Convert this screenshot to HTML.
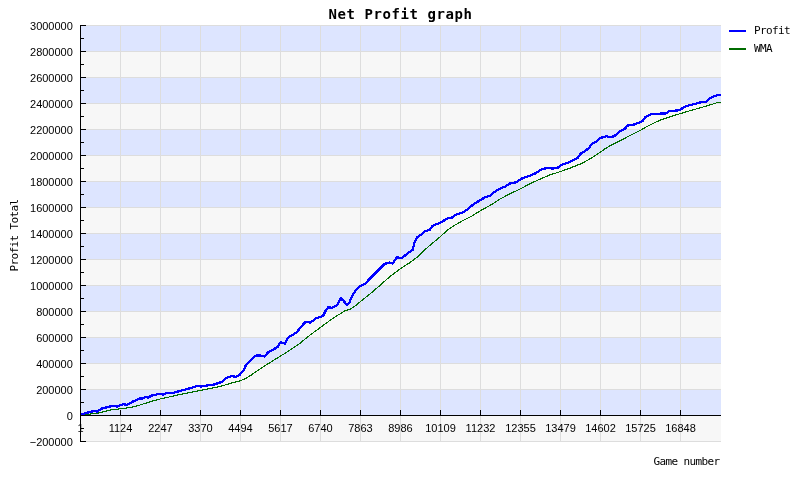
<!DOCTYPE html>
<html><head><meta charset="utf-8"><title>Net Profit graph</title>
<style>
html,body{margin:0;padding:0;background:#fff;}
body{width:800px;height:480px;overflow:hidden;}
svg{display:block;}
.ax{font-family:"Liberation Sans",Arial,sans-serif;font-size:11px;fill:#000;}
.mono{font-family:"DejaVu Sans Mono","Liberation Mono",monospace;fill:#000;}
</style></head><body>
<svg width="800" height="480" viewBox="0 0 800 480">
<rect x="0" y="0" width="800" height="480" fill="#ffffff"/>
<g shape-rendering="crispEdges">
<rect x="81" y="25" width="640" height="26" fill="#dde5ff"/>
<rect x="81" y="51" width="640" height="26" fill="#f7f7f7"/>
<rect x="81" y="77" width="640" height="26" fill="#dde5ff"/>
<rect x="81" y="103" width="640" height="26" fill="#f7f7f7"/>
<rect x="81" y="129" width="640" height="26" fill="#dde5ff"/>
<rect x="81" y="155" width="640" height="26" fill="#f7f7f7"/>
<rect x="81" y="181" width="640" height="26" fill="#dde5ff"/>
<rect x="81" y="207" width="640" height="26" fill="#f7f7f7"/>
<rect x="81" y="233" width="640" height="26" fill="#dde5ff"/>
<rect x="81" y="259" width="640" height="26" fill="#f7f7f7"/>
<rect x="81" y="285" width="640" height="26" fill="#dde5ff"/>
<rect x="81" y="311" width="640" height="26" fill="#f7f7f7"/>
<rect x="81" y="337" width="640" height="26" fill="#dde5ff"/>
<rect x="81" y="363" width="640" height="26" fill="#f7f7f7"/>
<rect x="81" y="389" width="640" height="26" fill="#dde5ff"/>
<rect x="81" y="415" width="640" height="27" fill="#f7f7f7"/>
<rect x="81" y="25" width="640" height="1" fill="#dddddd"/>
<rect x="81" y="51" width="640" height="1" fill="#dddddd"/>
<rect x="81" y="77" width="640" height="1" fill="#dddddd"/>
<rect x="81" y="103" width="640" height="1" fill="#dddddd"/>
<rect x="81" y="129" width="640" height="1" fill="#dddddd"/>
<rect x="81" y="155" width="640" height="1" fill="#dddddd"/>
<rect x="81" y="181" width="640" height="1" fill="#dddddd"/>
<rect x="81" y="207" width="640" height="1" fill="#dddddd"/>
<rect x="81" y="233" width="640" height="1" fill="#dddddd"/>
<rect x="81" y="259" width="640" height="1" fill="#dddddd"/>
<rect x="81" y="285" width="640" height="1" fill="#dddddd"/>
<rect x="81" y="311" width="640" height="1" fill="#dddddd"/>
<rect x="81" y="337" width="640" height="1" fill="#dddddd"/>
<rect x="81" y="363" width="640" height="1" fill="#dddddd"/>
<rect x="81" y="389" width="640" height="1" fill="#dddddd"/>
<rect x="81" y="415" width="640" height="1" fill="#dddddd"/>
<rect x="81" y="441" width="640" height="1" fill="#dddddd"/>
<rect x="120" y="25" width="1" height="417" fill="#dddddd"/>
<rect x="160" y="25" width="1" height="417" fill="#dddddd"/>
<rect x="200" y="25" width="1" height="417" fill="#dddddd"/>
<rect x="240" y="25" width="1" height="417" fill="#dddddd"/>
<rect x="280" y="25" width="1" height="417" fill="#dddddd"/>
<rect x="320" y="25" width="1" height="417" fill="#dddddd"/>
<rect x="360" y="25" width="1" height="417" fill="#dddddd"/>
<rect x="400" y="25" width="1" height="417" fill="#dddddd"/>
<rect x="440" y="25" width="1" height="417" fill="#dddddd"/>
<rect x="480" y="25" width="1" height="417" fill="#dddddd"/>
<rect x="520" y="25" width="1" height="417" fill="#dddddd"/>
<rect x="560" y="25" width="1" height="417" fill="#dddddd"/>
<rect x="600" y="25" width="1" height="417" fill="#dddddd"/>
<rect x="640" y="25" width="1" height="417" fill="#dddddd"/>
<rect x="680" y="25" width="1" height="417" fill="#dddddd"/>
</g>
<polyline shape-rendering="crispEdges" fill="none" stroke="#006c00" stroke-width="1.15" points="81,415 85,414.8 92,413.8 98,413.2 110,410 120,408.8 127,408 133,407 140,405 150,401.8 160,399 170,396.8 180,394.5 190,392.5 200,390.5 210,388.5 220,386.5 230,383.5 240,380.8 245,378.9 251.25,375.1 260,368.9 270,362.6 280,356.4 290,350.1 300,343.25 310,335.1 320,327.7 332.5,318.6 345,310.75 350,309.25 355,306.1 362.5,299.9 370,294 380,285.4 390,276.5 400,269 410,262.5 418.75,255.9 423.1,251.4 430,245.2 440,236.9 447.5,230.1 455,225.1 462.5,220.75 471.25,216.4 480,210.9 490,205.5 500,199.1 510,193.75 520,189.1 530,183.75 540,179.1 550,174.9 560,171.7 570,168.1 582.5,163.1 591.25,158.1 600,152.5 605,148.75 611.25,145 620,140.8 630,135.5 640,130.5 650,124.9 660,120.25 670,116.75 680,113.7 690,110.75 698.5,108.25 706,106.15 713.5,103.9 718,102.4 720.5,102.25"/>
<polyline shape-rendering="crispEdges" fill="none" stroke="#0000ff" stroke-width="2.3" stroke-linejoin="round" points="81,414.5 90,412 94,411 97,411.5 102,408.5 110,406.5 113,405.8 117,406.5 123,404.2 127,404.8 132,402 140,398.2 142,398.8 146,397 148,397.5 152,395.5 160,393.8 163,394.5 166,393.2 172,393.2 180,391 190,388.2 198,385.8 201,386.5 207,385.5 214,384.5 220,382.5 222,382.2 226,378.2 232,376 236,377 240,374.5 243.75,370 245.6,365.75 248.75,362 252.5,358.25 256.25,355.5 260,355.5 264.4,356.4 268.75,351.75 273,349.75 277.5,347 280.6,342.25 285,343.5 288,337.6 292.5,335 297,332.25 300,327.8 305.5,322 310.5,322.5 316.25,318.25 323,316.1 325.6,310.75 328,307.4 332.5,307.75 337.5,304.9 340.6,298 343.75,301.1 346.9,304.9 349.4,302.4 352.5,295.5 355.6,290.5 360,286.2 365,283.8 371.25,277.2 377.5,270.9 384.4,264 389.4,262.5 392.75,263.4 396.9,257.5 401.9,258 407.5,253.4 412.5,250 414.4,243 417.2,237.3 421.5,234.3 425,231 429.4,230.1 432.5,225.75 437.5,223.9 442.5,221.4 447.5,218.5 451.9,217.6 456.25,214.5 462.5,212.6 466.9,209.75 472.5,205.1 478.75,201 485,197.4 490,195.7 495,191.6 500,188.75 505,186.6 510,183.5 516.25,182.25 521.25,178.75 527.5,176.6 535,173.5 541.25,169.5 547.5,167.9 552.5,168.5 557.5,167.8 562.5,164.4 570,161.9 577.5,158.1 580.6,153.75 585,151.25 589.4,147.5 591.9,143.75 596.25,141.9 600,138.1 606.25,136.25 611.25,137.25 615,135.6 620,131 624.4,129.3 627.5,125.5 632.5,124.9 635,124.25 642.5,121.1 645,117.4 651.25,114.25 661.25,113.6 665.6,113.6 669.4,111.1 677.5,110.5 680,110 683.5,107.3 689.5,105.1 694.75,104.1 700,102.5 706.75,101.65 709,98.9 713.5,96.6 718,94.9 720.5,94.9"/>
<g shape-rendering="crispEdges" fill="#000">
<rect x="80" y="25" width="1" height="417"/>
<rect x="81" y="25" width="5" height="1"/>
<rect x="81" y="38" width="3" height="1"/>
<rect x="81" y="51" width="5" height="1"/>
<rect x="81" y="64" width="3" height="1"/>
<rect x="81" y="77" width="5" height="1"/>
<rect x="81" y="90" width="3" height="1"/>
<rect x="81" y="103" width="5" height="1"/>
<rect x="81" y="116" width="3" height="1"/>
<rect x="81" y="129" width="5" height="1"/>
<rect x="81" y="142" width="3" height="1"/>
<rect x="81" y="155" width="5" height="1"/>
<rect x="81" y="168" width="3" height="1"/>
<rect x="81" y="181" width="5" height="1"/>
<rect x="81" y="194" width="3" height="1"/>
<rect x="81" y="207" width="5" height="1"/>
<rect x="81" y="220" width="3" height="1"/>
<rect x="81" y="233" width="5" height="1"/>
<rect x="81" y="246" width="3" height="1"/>
<rect x="81" y="259" width="5" height="1"/>
<rect x="81" y="272" width="3" height="1"/>
<rect x="81" y="285" width="5" height="1"/>
<rect x="81" y="298" width="3" height="1"/>
<rect x="81" y="311" width="5" height="1"/>
<rect x="81" y="324" width="3" height="1"/>
<rect x="81" y="337" width="5" height="1"/>
<rect x="81" y="350" width="3" height="1"/>
<rect x="81" y="363" width="5" height="1"/>
<rect x="81" y="376" width="3" height="1"/>
<rect x="81" y="389" width="5" height="1"/>
<rect x="81" y="402" width="3" height="1"/>
<rect x="81" y="415" width="5" height="1"/>
<rect x="81" y="428" width="3" height="1"/>
<rect x="81" y="441" width="5" height="1"/>
<rect x="80" y="415" width="641" height="1"/>
<rect x="120" y="410" width="1" height="5"/>
<rect x="160" y="410" width="1" height="5"/>
<rect x="200" y="410" width="1" height="5"/>
<rect x="240" y="410" width="1" height="5"/>
<rect x="280" y="410" width="1" height="5"/>
<rect x="320" y="410" width="1" height="5"/>
<rect x="360" y="410" width="1" height="5"/>
<rect x="400" y="410" width="1" height="5"/>
<rect x="440" y="410" width="1" height="5"/>
<rect x="480" y="410" width="1" height="5"/>
<rect x="520" y="410" width="1" height="5"/>
<rect x="560" y="410" width="1" height="5"/>
<rect x="600" y="410" width="1" height="5"/>
<rect x="640" y="410" width="1" height="5"/>
<rect x="680" y="410" width="1" height="5"/>
</g>
<g class="ax" text-anchor="end">
<text x="72.85" y="30">3000000</text>
<text x="72.85" y="56">2800000</text>
<text x="72.85" y="82">2600000</text>
<text x="72.85" y="108">2400000</text>
<text x="72.85" y="134">2200000</text>
<text x="72.85" y="160">2000000</text>
<text x="72.85" y="186">1800000</text>
<text x="72.85" y="212">1600000</text>
<text x="72.85" y="238">1400000</text>
<text x="72.85" y="264">1200000</text>
<text x="72.85" y="290">1000000</text>
<text x="72.85" y="316">800000</text>
<text x="72.85" y="342">600000</text>
<text x="72.85" y="368">400000</text>
<text x="72.85" y="394">200000</text>
<text x="72.85" y="420">0</text>
<text x="72.85" y="446">−200000</text>
</g>
<g class="ax" text-anchor="middle">
<text x="80.5" y="432">1</text>
<text x="120.5" y="432">1124</text>
<text x="160.5" y="432">2247</text>
<text x="200.5" y="432">3370</text>
<text x="240.5" y="432">4494</text>
<text x="280.5" y="432">5617</text>
<text x="320.5" y="432">6740</text>
<text x="360.5" y="432">7863</text>
<text x="400.5" y="432">8986</text>
<text x="440.5" y="432">10109</text>
<text x="480.5" y="432">11232</text>
<text x="520.5" y="432">12355</text>
<text x="560.5" y="432">13479</text>
<text x="600.5" y="432">14602</text>
<text x="640.5" y="432">15725</text>
<text x="680.5" y="432">16848</text>
</g>
<text class="mono" x="400.5" y="19" text-anchor="middle" font-size="14px" font-weight="bold" letter-spacing="0.57">Net Profit graph</text>
<g shape-rendering="crispEdges"><rect x="729" y="30" width="17" height="2" fill="#0000ff"/><rect x="729" y="48" width="17" height="2" fill="#006c00"/></g>
<text class="mono" x="754" y="34" font-size="11px" letter-spacing="-0.62">Profit</text>
<text class="mono" x="754" y="52" font-size="11px" letter-spacing="-0.62">WMA</text>
<text class="mono" x="653.5" y="465" font-size="11px" letter-spacing="-0.62">Game number</text>
<text class="mono" transform="translate(18,271.5) rotate(-90)" font-size="11px" letter-spacing="-0.62">Profit Total</text>
</svg></body></html>
